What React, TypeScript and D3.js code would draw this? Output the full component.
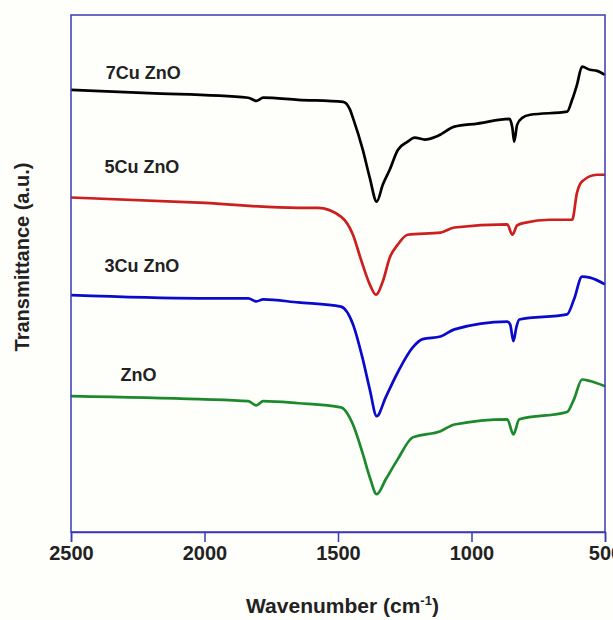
import React, { useRef, useEffect } from "react";
import * as d3 from "d3";

// FTIR spectra, [wavenumber (cm-1), transmittance (a.u.)]
type Pt = [number, number];

const ticks = [2500, 2000, 1500, 1000, 500];

const zno7: Pt[] = [
  [2500, 85.5], [2209, 84.9], [1836, 84.0], [1806, 83.4], [1780, 84.0],
  [1649, 83.6], [1481, 83.2], [1455, 81.7], [1444, 80.1], [1407, 73.9],
  [1381, 68.5], [1355, 63.9], [1332, 67.2], [1306, 70.1], [1276, 73.9],
  [1239, 75.5], [1213, 76.3], [1175, 75.9], [1127, 76.6], [1064, 78.4],
  [978, 79.0], [858, 79.9], [847, 78.2], [840, 75.5], [829, 78.8],
  [810, 80.1], [780, 80.7], [642, 81.3], [623, 83.6], [605, 86.5],
  [586, 90.0], [556, 89.4], [530, 89.2], [500, 88.4],
];

const zno5: Pt[] = [
  [2500, 64.7], [2022, 63.7], [1649, 62.7], [1575, 62.7], [1489, 61.0],
  [1444, 57.5], [1414, 52.7], [1381, 47.9], [1358, 45.9], [1332, 48.5],
  [1306, 53.1], [1276, 55.6], [1239, 57.5], [1116, 57.9], [1064, 58.9],
  [866, 59.5], [847, 57.5], [829, 59.3], [802, 59.8], [705, 60.4],
  [623, 60.4], [605, 65.6], [586, 67.8], [530, 69.1], [500, 69.1],
];

const zno3: Pt[] = [
  [2500, 45.8], [2022, 45.2], [1836, 45.2], [1806, 44.6], [1780, 45.0],
  [1649, 44.4], [1489, 43.6], [1444, 40.2], [1407, 33.4], [1381, 27.6],
  [1355, 22.4], [1321, 26.1], [1276, 30.9], [1220, 35.7], [1183, 37.3],
  [1116, 37.8], [1064, 39.2], [866, 40.7], [855, 40.1], [843, 36.9],
  [832, 39.6], [821, 41.1], [642, 42.1], [616, 45.0], [586, 49.4],
  [556, 49.2], [500, 47.9],
];

const zno: Pt[] = [
  [2500, 26.3], [2022, 25.7], [1836, 25.3], [1806, 24.5], [1780, 25.3],
  [1649, 24.9], [1489, 24.1], [1444, 20.8], [1407, 15.1], [1381, 10.6],
  [1355, 7.3], [1321, 10.2], [1276, 14.1], [1220, 18.3], [1116, 19.5],
  [1064, 20.8], [866, 21.8], [843, 18.9], [821, 21.8], [642, 23.2],
  [616, 25.7], [586, 29.5], [556, 29.2], [500, 28.2],
];

const series = [
  { name: "7Cu ZnO", data: zno7, color: "#000000" },
  { name: "5Cu ZnO", data: zno5, color: "#cc1f1f" },
  { name: "3Cu ZnO", data: zno3, color: "#0a0acc" },
  { name: "ZnO", data: zno, color: "#1c8a2c" },
];
// label anchor [wavenumber, value]
const labelPos: Pt[] = [[2370, 88.8], [2375, 70.6], [2375, 51.6], [2315, 30.4]];

const W = 613, H = 620;
const margin = { top: 15, right: 7, bottom: 88, left: 71 };
const axisColor = "#3a3ab4";
const font = "'Liberation Sans', Arial, sans-serif";

export default function App() {
  const ref = useRef<SVGSVGElement>(null);

  useEffect(() => {
    const svg = d3.select(ref.current);
    svg.selectAll("*").remove();

    const x = d3.scaleLinear().domain([2500, 500]).range([margin.left, W - margin.right - 1]);
    const y = d3.scaleLinear().domain([0, 100]).range([H - margin.bottom, margin.top]);
    const bottom = H - margin.bottom;

    svg.append("rect").attr("width", W).attr("height", H).attr("fill", "#fefefb");

    const line = d3.line<Pt>().x((d) => x(d[0])).y((d) => y(d[1])).curve(d3.curveMonotoneX);

    series.forEach((s, i) => {
      svg.append("path")
        .datum(s.data)
        .attr("fill", "none")
        .attr("stroke", s.color)
        .attr("stroke-width", 2.7)
        .attr("stroke-linejoin", "round")
        .attr("d", line);
      svg.append("text")
        .attr("x", x(labelPos[i][0]))
        .attr("y", y(labelPos[i][1]))
        .attr("dy", "0.35em")
        .style("font", `bold 18px ${font}`)
        .attr("fill", "#222")
        .text(s.name);
    });

    // frame
    svg.append("rect")
      .attr("x", margin.left).attr("y", margin.top)
      .attr("width", W - margin.right - margin.left - 1)
      .attr("height", bottom - margin.top)
      .attr("fill", "none").attr("stroke", axisColor).attr("stroke-width", 1.5);

    const ax = svg.append("g")
      .attr("transform", `translate(0,${bottom})`)
      .call(d3.axisBottom(x).tickValues(ticks).tickSize(10).tickPadding(4).tickFormat(d3.format("d")));
    ax.select(".domain").attr("stroke", axisColor).attr("stroke-width", 1.5);
    ax.selectAll(".tick line").attr("stroke", axisColor).attr("stroke-width", 1.5);
    ax.selectAll(".tick text")
      .attr("fill", "#222")
      .style("font", `bold 20px ${font}`);

    svg.append("text")
      .attr("x", (margin.left + W - margin.right) / 2 + 4)
      .attr("y", 613)
      .attr("text-anchor", "middle")
      .style("font", `bold 21px ${font}`)
      .attr("fill", "#222")
      .call((t) => {
        t.append("tspan").text("Wavenumber (cm");
        t.append("tspan").attr("dy", -8).style("font-size", "13px").text("-1");
        t.append("tspan").attr("dy", 8).text(")");
      });

    svg.append("text")
      .attr("transform", `translate(29,257) rotate(-90)`)
      .attr("text-anchor", "middle")
      .style("font", `bold 20px ${font}`)
      .attr("fill", "#222")
      .text("Transmittance (a.u.)");
  }, []);

  return (
    <svg
      ref={ref}
      width={W}
      height={H}
      style={{ position: "absolute", left: 0, top: 0 }}
    />
  );
}
